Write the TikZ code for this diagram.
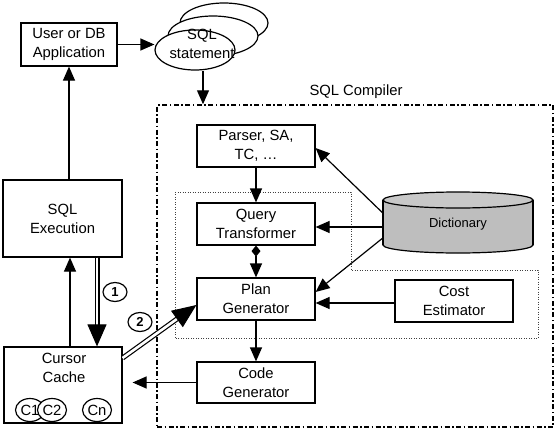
\documentclass[tikz,border=0pt]{standalone}
\usepackage{fontspec}
\setmainfont{Liberation Sans}
\usetikzlibrary{arrows.meta,shapes.geometric}
\newcommand\dgmfont{\fontsize{14.8}{19}\selectfont}
\definecolor{dictgray}{RGB}{190,190,190}
\definecolor{dicttop}{RGB}{200,200,200}
\begin{document}
\begin{tikzpicture}[x=1pt,y=-1pt,
  box/.style={draw, line width=1.2pt, fill=white, minimum width=118pt, minimum height=42pt, align=center, inner sep=1pt, font=\dgmfont},
  conn/.style={line width=1.2pt, -{Triangle[length=14pt,width=12pt]}},
  stmtell/.style={ellipse, draw, line width=1.2pt, fill=white, inner sep=0},
  dblline/.style={double, double distance=2.6pt, line width=1.2pt},
  circnum/.style={ellipse, draw, line width=1.2pt, minimum width=24pt, minimum height=19pt, inner sep=0, font=\bfseries\fontsize{13}{15}\selectfont},
  cur/.style={ellipse, draw, line width=1.2pt, fill=white, minimum width=29pt, minimum height=23pt, inner sep=0, font=\dgmfont}]
\useasboundingbox (0,0) rectangle (557,434);

% SQL compiler frame
\node[draw, line width=1.5pt, dash pattern=on 5pt off 2.5pt on 1.5pt off 2.5pt, minimum width=396pt, minimum height=322pt, inner sep=0] (comp) at (355,266) {};
\node[font=\dgmfont] (complabel) at (356,92) {SQL Compiler};

% dotted region
\draw[line width=0.8pt, dash pattern=on 1pt off 1.5pt, black!75]
  (175,192) -- (351,192) -- (351,270) -- (538,270) -- (538,338) -- (175,338) -- cycle;

% boxes
\node[box, minimum width=96pt, minimum height=43pt] (user) at (69,44.5) {User or DB\\Application};
\node[box, minimum width=119pt, minimum height=77pt] (exe) at (62.5,218.5) {SQL\\Execution};
\node[box, minimum width=118pt, minimum height=76pt] (cache) at (63,385) {};
\node[font=\dgmfont, align=center] (cachelabel) at (64,368) {Cursor\\Cache};
\node[cur] (c1) at (30,410) {C1};
\node[cur] (c2) at (52,410) {C2};
\node[cur] (cn) at (97,410) {Cn};

\node[box] (parser) at (256,146) {Parser, SA,\\TC, …};
\node[box] (qt) at (256,224) {Query\\Transformer};
\node[box] (pg) at (256,299) {Plan\\Generator};
\node[box, minimum height=41pt] (cg) at (256,382.5) {Code\\Generator};
\node[box] (cost) at (454,301) {Cost\\Estimator};

% SQL statement stack
\node[stmtell, minimum width=88pt, minimum height=40pt] (stmt3) at (224,23) {};
\node[stmtell, minimum width=90pt, minimum height=40pt] (stmt2) at (213,36) {};
\node[stmtell, minimum width=80pt, minimum height=40pt] (stmt) at (195,50) {};
\node[font=\dgmfont, align=center] (stmtlabel) at (202,44) {SQL\\statement};

% dictionary cylinder
\fill[dictgray] (383,200) rectangle (533,245);
\fill[dictgray] (458,245) ellipse [x radius=75, y radius=8];
\draw[line width=1.2pt] (383,200) -- (383,245) (533,200) -- (533,245);
\begin{scope}
  \clip (370,245) rectangle (545,262);
  \draw[line width=1.2pt] (458,245) ellipse [x radius=75, y radius=8];
\end{scope}
\draw[line width=1.2pt, fill=dicttop] (458,200) ellipse [x radius=75, y radius=8];
\node[minimum width=150pt, minimum height=61pt, inner sep=0, font=\fontsize{13}{15}\selectfont] (dict) at (458,224.5) {Dictionary};

% connectors
\draw[conn] (user.east) -- (user.east -| stmt.west);
\draw[conn] ([xshift=8pt]stmt.south) -- ([xshift=8pt]stmt.south |- comp.north);
\draw[conn] (user.south |- exe.north) -- (user.south);
\draw[conn] ([xshift=7pt]cache.north) -- ([xshift=7pt]cache.north |- exe.south);

\draw[dblline, shorten >=20pt] ([xshift=34.5pt]exe.south) -- ([xshift=34pt]cache.north);
\draw[white, line width=1pt, -{Triangle[color=black, length=22pt, width=19pt]}] ([xshift=34.5pt]exe.south) -- ([xshift=34pt]cache.north);
\draw[dblline, shorten >=22pt] ([yshift=27pt]cache.east) -- ([yshift=-6pt]pg.west);
\draw[white, line width=1pt, -{Triangle[color=black, length=24pt, width=20pt]}] ([yshift=27pt]cache.east) -- ([yshift=-6pt]pg.west);

\node[circnum] (n1) at (115,292) {1};
\node[circnum] (n2) at (140,322) {2};

\draw[conn] (parser.south) -- (qt.north);
\draw[line width=1.2pt, {Diamond[length=11pt,width=9pt]}-{Triangle[length=14pt,width=12pt]}] (qt.south) -- (pg.north);
\draw[conn] (pg.south) -- (cg.north);
\draw[conn] ([yshift=11.5pt]dict.west) -- ([yshift=-2pt]parser.east);
\draw[conn] ([yshift=-2.5pt]dict.west) -- ([yshift=-2.5pt]dict.west -| qt.east);
\draw[conn] ([yshift=-13.5pt]dict.west) -- ([yshift=7pt]pg.east);
\draw[conn] ([yshift=-2pt]cost.west) -- ([yshift=-2pt]cost.west -| pg.east);
\draw[conn, shorten >=10pt] (cg.west) -- (cg.west -| cache.east);
\end{tikzpicture}
\end{document}
